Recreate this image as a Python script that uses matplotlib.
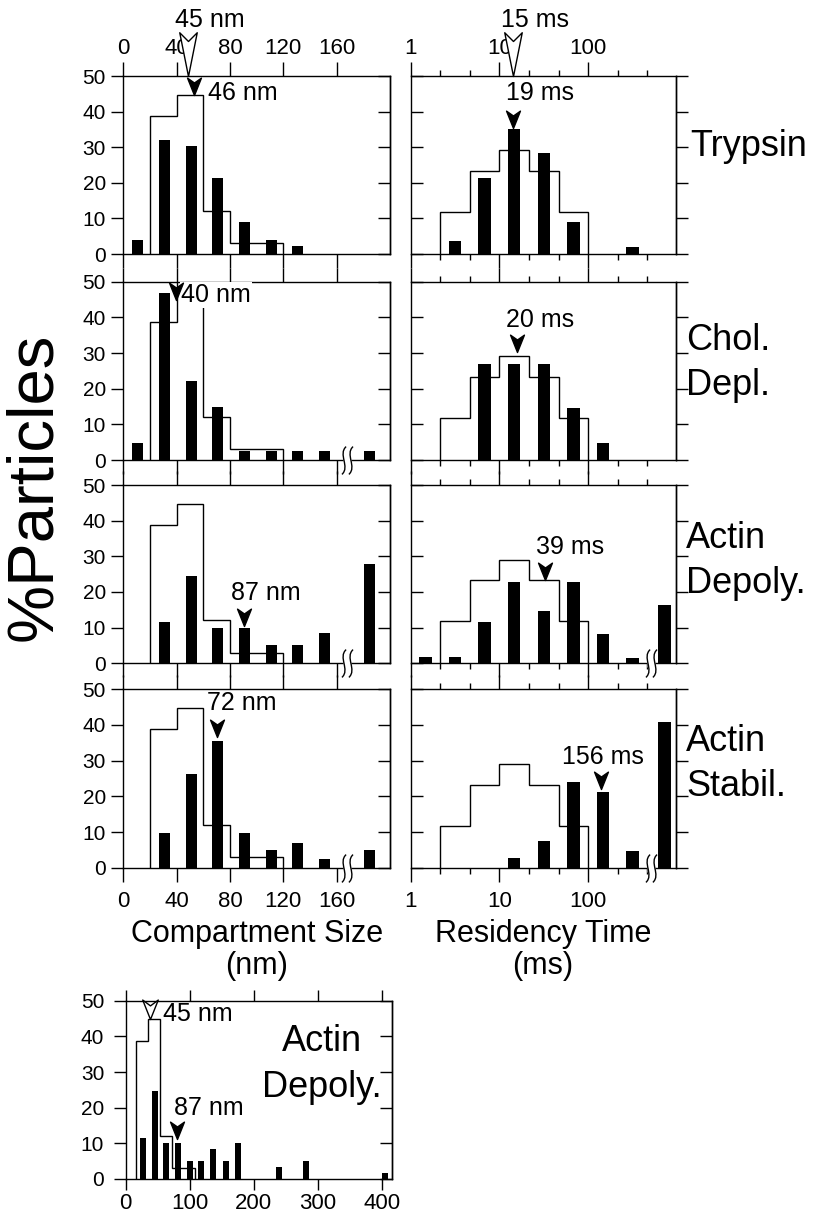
import matplotlib
matplotlib.use("Agg")
import numpy as np
import matplotlib.pyplot as plt
from matplotlib.path import Path
from matplotlib.ticker import FixedLocator, NullFormatter

plt.rcParams["font.family"] = ["Liberation Sans", "DejaVu Sans"]

# ---- data ----
# compartment size histograms (nm), 20 nm bins, last bar = overflow bin
size_centers = [11, 31, 51, 71, 91, 111, 131, 151]
size_overflow_x = 185
size_break_x = 168
size_edges = [20, 40, 60, 80, 100, 120]
size_control = [38.8, 44.8, 12.1, 3.0, 3.0]
# in the Chol. Depl. panel the 40-60 nm step runs off the top of the box
size_control_chol = [38.8, 51.0, 12.1, 3.0, 3.0]

trypsin_size = [3.9, 31.9, 30.2, 21.4, 9.1, 3.9, 2.2, 0.0]
chol_size = [4.9, 46.7, 22.2, 14.9, 2.5, 2.5, 2.5, 2.5]
depoly_size = [0.0, 11.5, 24.5, 9.9, 9.9, 5.1, 5.1, 8.4]
stabil_size = [0.0, 9.6, 26.3, 35.6, 9.6, 5.0, 7.0, 2.3]
size_overflow = [0.0, 2.5, 27.8, 5.0]

# residency time histograms (ms), 1/3-decade bins
time_centers = [1.47, 3.16, 6.81, 14.7, 31.6, 68.1, 147, 316]
time_overflow_x = 725
time_break_x = 513
time_edges = [2.154, 4.642, 10, 21.54, 46.42, 100]
time_control = [11.8, 23.3, 29.1, 23.3, 11.8]

trypsin_time = [0.0, 3.7, 21.3, 35.2, 28.3, 8.9, 0.0, 2.1]
chol_time = [0.0, 0.0, 26.8, 26.8, 26.8, 14.7, 4.9, 0.0]
depoly_time = [1.7, 1.7, 11.5, 22.7, 14.6, 22.7, 8.2, 1.6]
stabil_time = [0.0, 0.0, 0.0, 2.6, 7.5, 24.1, 21.3, 4.8]
time_overflow = [0.0, 0.0, 16.4, 40.7]

size_rows = [trypsin_size, chol_size, depoly_size, stabil_size]
size_controls = [size_control, size_control_chol, size_control, size_control]
time_rows = [trypsin_time, chol_time, depoly_time, stabil_time]
row_names = ["Trypsin", "Chol.\nDepl.", "Actin\nDepoly.", "Actin\nStabil."]

# arrows: tip x, tip y, label, label x, label y, alignment
size_marks = [
    (53, 44.7, "46 nm", 63.5, 45.3, "left"),
    (39.6, 45.0, "40 nm", 43.4, 46.3, "left"),
    (90.5, 10.5, "87 nm", 107, 19.8, "center"),
    (70.5, 36.5, "72 nm", 88.7, 46.1, "center"),
]
time_marks = [
    (14.3, 35.5, "19 ms", 28.6, 45.1, "center"),
    (15.7, 30.4, "20 ms", 28.6, 39.3, "center"),
    (32.8, 23.4, "39 ms", 62, 32.7, "center"),
    (138, 22.0, "156 ms", 147.5, 31.1, "center"),
]
size_control_mark = (48.5, "45 nm", 65)
time_control_mark = (14.3, "15 ms", 25)

# expanded actin depolymerization histogram (bottom panel)
wide_centers = [27, 46, 63, 82, 100, 118, 137, 156, 175, 240, 282, 405]
wide_heights = [11.6, 24.7, 10.0, 10.0, 5.0, 5.0, 8.4, 5.0, 10.0, 3.5, 5.0, 1.8]
wide_edges = [16, 35, 54, 72, 90, 109]

W, H = 814, 1220
fig = plt.figure(figsize=(W / 100, H / 100), dpi=100)


def px(x, y):
    return x / W, 1 - y / H


def add_axes_px(left, top, right, bottom):
    return fig.add_axes([left / W, 1 - bottom / H, (right - left) / W, (bottom - top) / H])


CODES = [Path.MOVETO, Path.LINETO, Path.LINETO, Path.LINETO, Path.CLOSEPOLY]


def head(half, notch):
    return Path([(0, 0), (-half, 1), (0, 1 - notch), (half, 1), (0, 0)], CODES)


FILLED_HEAD = head(0.4, 0.28)
LONG_HEAD = head(0.2, 0.2)
SHORT_HEAD = head(0.4, 0.3)
SQUIGGLE = Path(
    [(-0.4, -1), (0.2, -0.45), (-0.7, 0.45), (-0.1, 1),
     (0.1, -1), (0.7, -0.45), (-0.2, 0.45), (0.4, 1)],
    [Path.MOVETO, Path.CURVE4, Path.CURVE4, Path.CURVE4,
     Path.MOVETO, Path.CURVE4, Path.CURVE4, Path.CURVE4],
)

YTICKS = list(range(0, 51, 10))
LW = 1.0
TICK_FS = 16
YTICK_FS = 15


def style_y(ax, left_col, pad=4):
    ax.set_ylim(0, 50)
    ax.set_yticks(YTICKS)
    sec = ax.secondary_yaxis("right")
    sec.set_ticks(YTICKS)
    if left_col:
        ax.tick_params(axis="y", direction="out", length=8.5, width=LW,
                       labelsize=YTICK_FS, pad=pad)
        sec.tick_params(direction="in", length=8.5, width=LW, labelright=False)
    else:
        ax.tick_params(axis="y", direction="in", length=8.5, width=LW, labelleft=False)
        sec.tick_params(direction="out", length=8.5, width=LW, labelright=False)
    sec.spines["right"].set_linewidth(LW)
    for s in ax.spines.values():
        s.set_linewidth(LW)


def draw_break(ax, x):
    ax.plot([x], [0], marker="s", ms=6, mfc="white", mec="none",
            clip_on=False, zorder=6)
    ax.plot([x], [0], marker=SQUIGGLE, ms=20, fillstyle="none", mec="black",
            mew=1.0, clip_on=False, zorder=7)


def arrow(ax, x, y, marker=FILLED_HEAD, ms=25, fc="black"):
    ax.plot([x], [y], marker=marker, ms=ms, mfc=fc, mec="black", mew=1.0,
            clip_on=False, zorder=8)


def log_bars(ax, centers, heights, half=0.07):
    lc = np.log10(centers)
    lefts = 10 ** (lc - half)
    ax.bar(lefts, heights, width=10 ** (lc + half) - lefts, align="edge",
           color="black", zorder=3)


row_tops = [76, 281.7, 485, 689.3]
row_bottoms = [254, 460, 663.3, 867.7]
left_x = (123.3, 390)
right_x = (410.7, 676)
name_x = [690, 686, 686, 686]
name_y = [147, 363, 561, 764]

for r in range(4):
    top_lab = r == 0
    bot_lab = r == 3

    # ---- compartment size ----
    ax = add_axes_px(left_x[0], row_tops[r], left_x[1], row_bottoms[r])
    ax.bar(size_centers, size_rows[r], width=8.25, color="black", zorder=3)
    if size_overflow[r] > 0:
        ax.bar([size_overflow_x], [size_overflow[r]], width=8.25, color="black", zorder=3)
        draw_break(ax, size_break_x)
    ax.stairs(size_controls[r], size_edges, baseline=0, color="black", lw=LW, zorder=2)
    ax.set_xlim(0, 200)
    ax.set_xticks([0, 40, 80, 120, 160])
    ax.tick_params(axis="x", direction="out", length=10, width=LW, top=True, bottom=True,
                   labeltop=top_lab, labelbottom=bot_lab, labelsize=TICK_FS,
                   pad=2 if top_lab else 7)
    style_y(ax, True)
    tx, ty, lab, lx, ly, ha = size_marks[r]
    arrow(ax, tx, ty)
    box = dict(fc="white", ec="none", pad=0.5) if r == 1 else None
    ax.text(lx, ly, lab, fontsize=18, ha=ha, va="center", zorder=5, bbox=box)
    if r == 0:
        cx, clab, clx = size_control_mark
        arrow(ax, cx, 50, marker=LONG_HEAD, ms=63, fc="white")
        ax.annotate(clab, xy=(clx, 1), xycoords=("data", "axes fraction"),
                    xytext=(0, 40), textcoords="offset points",
                    fontsize=18, ha="center", va="center")

    # ---- residency time ----
    ax = add_axes_px(right_x[0], row_tops[r], right_x[1], row_bottoms[r])
    ax.set_xscale("log")
    log_bars(ax, time_centers, time_rows[r])
    if time_overflow[r] > 0:
        log_bars(ax, [time_overflow_x], [time_overflow[r]])
        draw_break(ax, time_break_x)
    ax.stairs(time_control, time_edges, baseline=0, color="black", lw=LW, zorder=2)
    ax.set_xlim(1, 10 ** 2.99)
    ax.set_xticks([1, 10, 100], labels=["1", "10", "100"])
    ax.xaxis.set_minor_locator(FixedLocator([2.154, 4.642, 21.54, 46.42, 215.4, 464.2]))
    ax.xaxis.set_minor_formatter(NullFormatter())
    ax.tick_params(axis="x", which="both", direction="out", width=LW, top=True, bottom=True,
                   labeltop=top_lab, labelbottom=bot_lab, labelsize=TICK_FS,
                   pad=2 if top_lab else 7)
    ax.tick_params(axis="x", which="major", length=10)
    ax.tick_params(axis="x", which="minor", length=4.5)
    style_y(ax, False)
    tx, ty, lab, lx, ly, ha = time_marks[r]
    arrow(ax, tx, ty)
    ax.text(lx, ly, lab, fontsize=18, ha=ha, va="center", zorder=5)
    if r == 0:
        cx, clab, clx = time_control_mark
        arrow(ax, cx, 50, marker=LONG_HEAD, ms=63, fc="white")
        ax.annotate(clab, xy=(clx, 1), xycoords=("data", "axes fraction"),
                    xytext=(0, 40), textcoords="offset points",
                    fontsize=18, ha="center", va="center")

    fig.text(*px(name_x[r], name_y[r]), row_names[r], fontsize=26,
             ha="left", va="center", linespacing=1.4)

# ---- axis titles ----
fig.text(*px(34, 487), "%Particles", rotation=90, fontsize=47, ha="center", va="center")
fig.text(*px(257, 950), "Compartment Size\n(nm)", fontsize=22, ha="center", va="center",
         linespacing=1.08)
fig.text(*px(543, 950), "Residency Time\n(ms)", fontsize=22, ha="center", va="center",
         linespacing=1.08)

# ---- expanded bottom panel ----
ax = add_axes_px(125.7, 1000.7, 391.7, 1179)
ax.bar(wide_centers, wide_heights, width=9.5, color="black", zorder=3)
ax.stairs(size_control, wide_edges, baseline=0, color="black", lw=LW, zorder=2)
ax.set_xlim(0, 415.6)
ax.set_xticks([0, 100, 200, 300, 400])
ax.tick_params(axis="x", direction="out", length=8, width=LW, top=True, bottom=True,
               labeltop=False, labelbottom=True, labelsize=TICK_FS, pad=2)
style_y(ax, True, pad=7)
arrow(ax, 38, 44.8, marker=SHORT_HEAD, ms=28, fc="white")
ax.text(59, 46.4, "45 nm", fontsize=18, ha="left", va="center", zorder=5)
arrow(ax, 80.7, 11.1)
ax.text(130, 19.8, "87 nm", fontsize=18, ha="center", va="center", zorder=5)
ax.text(306, 32, "Actin\nDepoly.", fontsize=26, ha="center", va="center", linespacing=1.4)

fig.savefig("out.png", dpi=100)
